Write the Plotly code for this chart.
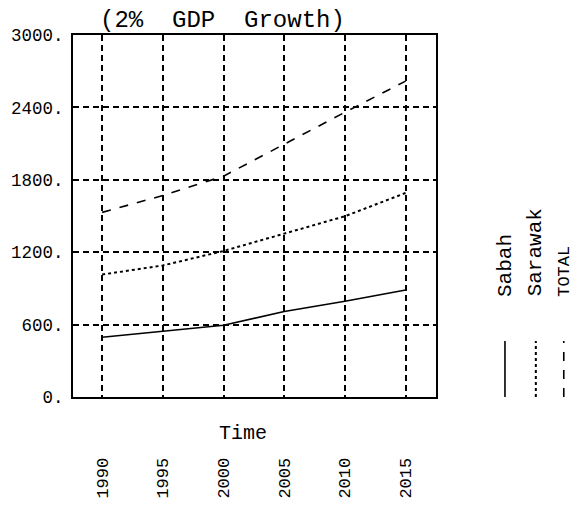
import plotly.graph_objects as go

years = [1990, 1995, 2000, 2005, 2010, 2015]
sabah = [495, 545, 595, 708, 793, 887]
sarawak = [1015, 1090, 1210, 1352, 1498, 1691]
total = [1530, 1670, 1830, 2098, 2360, 2618]

y_ticks = [0, 600, 1200, 1800, 2400, 3000]
y_ticktext = ["0.", "600.", "1200.", "1800.", "2400.", "3000."]
x_ticktext = ["1990", "1995", "2000", "2005", "2010", "2015"]
series_names = ["Sabah", "Sarawak", "TOTAL"]
series_dash = ["solid", "dot", "dash"]

FONT = "Liberation Mono, Courier New, monospace"

fig = go.Figure()
for name, vals, dash in zip(series_names, [sabah, sarawak, total], series_dash):
    fig.add_trace(go.Scatter(x=years, y=vals, mode="lines", name=name,
                             line=dict(color="black", width=1.6 if dash != "dot" else 2, dash=dash),
                             showlegend=False))

fig.update_layout(
    width=575, height=507,
    margin=dict(l=73, r=139, t=35, b=110, autoexpand=False),
    paper_bgcolor="white", plot_bgcolor="white",
    font=dict(family=FONT, color="black", size=16),
    xaxis=dict(range=[1987.6, 2017.5], tickvals=years, ticktext=x_ticktext,
               tickangle=-90, showgrid=True, gridcolor="black", griddash="6px,4px",
               gridwidth=1.5, showline=True, linecolor="black", linewidth=2, mirror=True,
               zeroline=False, ticks="", ticklabelstandoff=52, automargin=False,
               tickfont=dict(family=FONT, size=17)),
    yaxis=dict(range=[0, 3000], tickvals=y_ticks, ticktext=y_ticktext,
               showgrid=True, gridcolor="black", griddash="6px,4px", gridwidth=1.5,
               showline=True, linecolor="black", linewidth=2, mirror=True,
               zeroline=False, ticks="", ticklabelstandoff=4, automargin=False,
               tickfont=dict(family=FONT, size=17.5)),
)

fig.add_annotation(text="(2%\u00a0\u00a0GDP\u00a0\u00a0Growth)", xref="paper", yref="paper",
                   x=0.413, y=1.041, showarrow=False, font=dict(family=FONT, size=24),
                   xanchor="center", yanchor="middle")
fig.add_annotation(text="Time", xref="paper", yref="paper", x=0.468, y=-0.102,
                   showarrow=False, font=dict(family=FONT, size=20),
                   xanchor="center", yanchor="middle")

# legend (rotated labels with line samples)
leg_x = [1.19, 1.275, 1.352]
leg_size = [21, 21, 17]
for name, dash, lx, fs in zip(series_names, series_dash, leg_x, leg_size):
    fig.add_annotation(text=name, xref="paper", yref="paper", x=lx, y=0.272,
                       textangle=-90, showarrow=False, xanchor="center", yanchor="bottom",
                       font=dict(family=FONT, size=fs))
    fig.add_shape(type="line", xref="paper", yref="paper", x0=lx, x1=lx, y0=0.0, y1=0.155,
                  line=dict(color="black", width=2 if dash == "dot" else 1.6, dash=dash))

fig.write_html("out.html", config={"displayModeBar": False},
               post_script="document.body.style.margin='0';document.body.style.overflow='hidden';")
